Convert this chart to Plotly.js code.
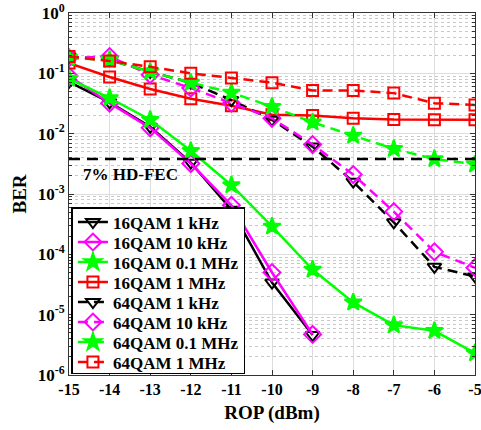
<!DOCTYPE html>
<html>
<head>
<meta charset="utf-8">
<script src="https://cdn.plot.ly/plotly-3.0.1.min.js"></script>
<style>html,body{margin:0;padding:0;background:#fff;}#chart{width:481px;height:430px;}</style>
</head>
<body>
<div id="chart"></div>
<script>
// ROP values (dBm)
const rop = [-15, -14, -13, -12, -11, -10, -9, -8, -7, -6, -5];
const ropShort = [-15, -14, -13, -12, -11, -10, -9];

// 16QAM series (solid lines)
const qam16_1kHz   = [0.072, 0.033, 0.013, 0.0033, 0.00055, 0.000034, 0.0000046];
const qam16_10kHz  = [0.090, 0.032, 0.0125, 0.0032, 0.00065, 0.00005, 0.0000047];
const qam16_01MHz  = [0.082, 0.039, 0.017, 0.0052, 0.0014, 0.00029, 0.000056, 0.000016, 0.0000067, 0.0000054, 0.0000023];
const qam16_1MHz   = [0.148, 0.087, 0.055, 0.038, 0.029, 0.0206, 0.020, 0.018, 0.0172, 0.017, 0.017];

// 64QAM series (dashed lines)
const qam64_1kHz   = [0.19, 0.167, 0.106, 0.07, 0.036, 0.017, 0.0061, 0.0016, 0.00034, 0.000062, 0.000043];
const qam64_10kHz  = [0.18, 0.19, 0.095, 0.057, 0.032, 0.018, 0.0066, 0.0021, 0.00051, 0.00011, 0.00006];
const qam64_01MHz  = [0.18, 0.167, 0.106, 0.07, 0.048, 0.028, 0.0154, 0.0093, 0.0056, 0.0038, 0.0031];
const qam64_1MHz   = [0.19, 0.16, 0.128, 0.10, 0.084, 0.07, 0.052, 0.052, 0.047, 0.032, 0.030];

// FEC threshold
const fecX = [-15, -5];
const fecBER = 0.0038;
const fecLabel = '7% HD-FEC';

const xTicks = [-15, -14, -13, -12, -11, -10, -9, -8, -7, -6, -5];
const xTickText = ['-15', '-14', '-13', '-12', '-11', '-10', '-9', '-8', '-7', '-6', '-5'];
const yTicks = [1e-6, 1e-5, 1e-4, 1e-3, 1e-2, 1e-1, 1];
const yTickText = ['10<sup>-6</sup>', '10<sup>-5</sup>', '10<sup>-4</sup>', '10<sup>-3</sup>', '10<sup>-2</sup>', '10<sup>-1</sup>', '10<sup>0</sup>'];

const FONT = '"Liberation Serif", "Times New Roman", serif';
const W = 2.5;
const DASH = '10px,6px';
const bold = s => '<b>' + s + '</b>';

function tr(name, x, y, color, symbol, size, dash) {
  return {
    type: 'scatter', mode: 'lines+markers', name: bold(name), x: x, y: y,
    line: {color: color, width: W, dash: dash},
    marker: {symbol: symbol, size: size, color: color, line: {color: color, width: 2}}
  };
}

const data = [
  tr('16QAM 1 kHz', ropShort, qam16_1kHz, '#000000', 'triangle-down-open', 12, 'solid'),
  tr('16QAM 10 kHz', ropShort, qam16_10kHz, '#ff00ff', 'diamond-open', 13, 'solid'),
  tr('16QAM 0.1 MHz', rop, qam16_01MHz, '#00ff00', 'star', 13, 'solid'),
  tr('16QAM 1 MHz', rop, qam16_1MHz, '#ff0000', 'square-open', 11, 'solid'),
  tr('64QAM 1 kHz', rop, qam64_1kHz, '#000000', 'triangle-down-open', 12, DASH),
  tr('64QAM 10 kHz', rop, qam64_10kHz, '#ff00ff', 'diamond-open', 13, DASH),
  tr('64QAM 0.1 MHz', rop, qam64_01MHz, '#00ff00', 'star', 13, DASH),
  tr('64QAM 1 MHz', rop, qam64_1MHz, '#ff0000', 'square-open', 11, DASH),
  {type: 'scatter', mode: 'lines', x: fecX, y: [fecBER, fecBER], showlegend: false,
   line: {color: '#000000', width: W, dash: '11px,7px'}}
];

const layout = {
  width: 481, height: 430,
  margin: {l: 69, r: 6, t: 13, b: 55},
  paper_bgcolor: '#ffffff', plot_bgcolor: '#ffffff',
  font: {family: FONT, color: '#000000', size: 16},
  showlegend: true,
  legend: {
    x: 0.006, y: 0.003, xanchor: 'left', yanchor: 'bottom',
    bgcolor: '#ffffff', bordercolor: '#000000', borderwidth: 1.5,
    font: {family: FONT, size: 17, color: '#000000'},
    tracegroupgap: 0
  },
  xaxis: {
    range: [-15, -5], tickmode: 'array', tickvals: xTicks, ticktext: xTickText.map(bold),
    ticks: 'inside', ticklen: 5, tickcolor: '#333', mirror: 'ticks',
    showline: true, linecolor: '#333', linewidth: 1, ticklabeloverflow: 'allow',
    showgrid: true, gridcolor: '#dcdcdc', gridwidth: 1, zeroline: false,
    tickfont: {family: FONT, size: 16},
    title: {text: bold('ROP (dBm)'), font: {family: FONT, size: 19}, standoff: 8}
  },
  yaxis: {
    type: 'log', range: [-6, 0], tickmode: 'array', tickvals: yTicks, ticktext: yTickText.map(bold),
    ticks: 'inside', ticklen: 5, tickcolor: '#333', mirror: 'ticks',
    showline: true, linecolor: '#333', linewidth: 1, ticklabeloverflow: 'allow',
    showgrid: true, gridcolor: '#dcdcdc', gridwidth: 1, zeroline: false,
    tickfont: {family: FONT, size: 17},
    minor: {dtick: 'D1', ticks: 'inside', ticklen: 3, tickcolor: '#333', showgrid: true, gridcolor: '#c8c8c8', griddash: 'dot', gridwidth: 1},
    title: {text: bold('BER'), font: {family: FONT, size: 19}, standoff: 6}
  },
  annotations: [{
    x: -14.7, y: -2.68, xref: 'x', yref: 'y', text: bold(fecLabel), showarrow: false,
    xanchor: 'left', yanchor: 'middle', font: {family: FONT, size: 17, color: '#000'}
  }]
};

Plotly.newPlot('chart', data, layout, {displayModeBar: false, staticPlot: true}).then(gd => {
  // tighten legend row spacing to match the reference (20px rows)
  const leg = gd.querySelector('g.legend');
  if (!leg) return;
  const traces = leg.querySelectorAll('g.traces');
  const rowH = 20, padTop = 15, padBot = 12;
  traces.forEach((t, i) => {
    const m = /translate\(\s*([-\d.]+)/.exec(t.getAttribute('transform') || '');
    const tx = m ? m[1] : 0;
    t.setAttribute('transform', 'translate(' + tx + ',' + (padTop + i * rowH) + ')');
  });
  const h = padTop + (traces.length - 1) * rowH + padBot;
  const bg = leg.querySelector('rect.bg');
  if (bg) bg.setAttribute('height', h - 1.5);
  const m2 = /translate\(\s*([-\d.]+)/.exec(leg.getAttribute('transform') || '');
  const lx = m2 ? m2[1] : 71;
  const plotBottom = 430 - 55;
  leg.setAttribute('transform', 'translate(' + lx + ',' + (plotBottom - 1 - h) + ')');
});
</script>
</body>
</html>
